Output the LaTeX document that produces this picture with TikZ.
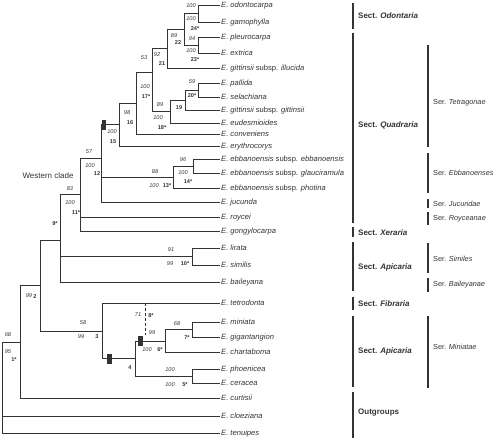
\documentclass[tikz,border=0pt]{standalone}
\usepackage{fontspec}
\setmainfont{Liberation Sans}
\usepackage{xcolor}
\definecolor{ink}{gray}{0.2}

\begin{document}
\begin{tikzpicture}[x=1pt,y=-1pt,
    branch/.style={draw=ink, line width=0.9pt},
    taxon/.style={anchor=west, inner sep=1.5pt, text=ink, text height=5.4pt, text depth=0pt,
        font=\fontsize{7.6}{9}\selectfont\itshape},
    supp/.style={inner sep=0pt, text=ink, font=\fontsize{5.6}{6}\selectfont\itshape},
    num/.style={inner sep=0pt, text=ink, font=\fontsize{5.6}{6}\selectfont\bfseries},
    synap/.style={fill=ink, inner sep=0pt, minimum width=4.5pt, minimum height=10pt},
    sectbar/.style={draw=ink, line width=2pt},
    serbar/.style={draw=ink, line width=1.6pt},
    sect/.style={anchor=west, inner sep=0pt, text=ink, font=\fontsize{8}{9}\selectfont\bfseries},
    ser/.style={anchor=west, inner sep=0pt, text=ink, font=\fontsize{7.3}{9}\selectfont}]
\useasboundingbox (0,0) rectangle (500,439);

% Taxa (tips of the tree)
\node[taxon] (odo) at (219.5,5) {E. odontocarpa};
\node[taxon] (gam) at (219.5,22) {E. gamophylla};
\node[taxon] (ple) at (219.5,37) {E. pleurocarpa};
\node[taxon] (ext) at (219.5,53) {E. extrica};
\node[taxon] (ill) at (219.5,68) {E. gittinsii \upshape subsp. \itshape illucida};
\node[taxon] (pal) at (219.5,83) {E. pallida};
\node[taxon] (sel) at (219.5,97) {E. selachiana};
\node[taxon] (git) at (219.5,110) {E. gittinsii \upshape subsp. \itshape gittinsii};
\node[taxon] (eud) at (219.5,123) {E. eudesmioides};
\node[taxon] (con) at (219.5,134) {E. conveniens};
\node[taxon] (ery) at (219.5,146) {E. erythrocorys};
\node[taxon] (ebb) at (219.5,159) {E. ebbanoensis \upshape subsp. \itshape ebbanoensis};
\node[taxon] (gla) at (219.5,173) {E. ebbanoensis \upshape subsp. \itshape glauciramula};
\node[taxon] (pho) at (219.5,188) {E. ebbanoensis \upshape subsp. \itshape photina};
\node[taxon] (juc) at (219.5,202) {E. jucunda};
\node[taxon] (roy) at (219.5,217) {E. roycei};
\node[taxon] (gon) at (219.5,231) {E. gongylocarpa};
\node[taxon] (lir) at (219.5,248) {E. lirata};
\node[taxon] (sim) at (219.5,265) {E. similis};
\node[taxon] (bai) at (219.5,282) {E. baileyana};
\node[taxon] (tet) at (219.5,303) {E. tetrodonta};
\node[taxon] (min) at (219.5,322) {E. miniata};
\node[taxon] (gig) at (219.5,337) {E. gigantangion};
\node[taxon] (cha) at (219.5,352) {E. chartaboma};
\node[taxon] (phe) at (219.5,369) {E. phoenicea};
\node[taxon] (cer) at (219.5,383) {E. ceracea};
\node[taxon] (cur) at (219.5,398) {E. curtisii};
\node[taxon] (clo) at (219.5,416) {E. cloeziana};
\node[taxon] (ten) at (219.5,433) {E. tenuipes};

% Internal nodes
\coordinate (n24) at (198,13.5);
\coordinate (n23) at (198,45);
\coordinate (n22) at (184,29.2);
\coordinate (n21) at (167,48.6);
\coordinate (n20) at (198,90);
\coordinate (n19) at (185,100);
\coordinate (n18) at (170,111.5);
\coordinate (n17) at (152,72);
\coordinate (n16) at (136,103);
\coordinate (n15) at (119,124.5);
\coordinate (n14) at (193,166);
\coordinate (n13) at (173,177);
\coordinate (n12) at (101,158);
\coordinate (n11) at (80,194.5);
\coordinate (n10) at (192,256.5);
\coordinate (n9) at (60,240);
\coordinate (n7) at (192,329.5);
\coordinate (n6) at (165,341);
\coordinate (n5) at (192,376);
\coordinate (n4) at (135,358.5);
\coordinate (n3) at (102,331);
\coordinate (n2) at (40,285.5);
\coordinate (n1) at (20,342);
\coordinate (n0) at (2,387);

% Draw the branches
\draw[branch] (n24) |- (odo.west) (n24) |- (gam.west);
\draw[branch] (n23) |- (ple.west) (n23) |- (ext.west);
\draw[branch] (n22) |- (n24) (n22) |- (n23);
\draw[branch] (n21) |- (n22) (n21) |- (ill.west);
\draw[branch] (n20) |- (pal.west) (n20) |- (sel.west);
\draw[branch] (n19) |- (n20) (n19) |- (git.west);
\draw[branch] (n18) |- (n19) (n18) |- (eud.west);
\draw[branch] (n17) |- (n21) (n17) |- (n18);
\draw[branch] (n16) |- (n17) (n16) |- (con.west);
\draw[branch] (n15) |- (n16) (n15) |- (ery.west);
\draw[branch] (n14) |- (ebb.west) (n14) |- (gla.west);
\draw[branch] (n13) |- (n14) (n13) |- (pho.west);
\draw[branch] (n12) |- (n15) (n12) |- (n13) (n12) |- (juc.west);
\draw[branch] (n11) |- (n12) (n11) |- (roy.west) (n11) |- (gon.west);
\draw[branch] (n10) |- (lir.west) (n10) |- (sim.west);
\draw[branch] (n9) |- (n11) (n9) |- (n10) (n9) |- (bai.west);
\draw[branch] (n7) |- (min.west) (n7) |- (gig.west);
\draw[branch] (n6) |- (n7) (n6) |- (cha.west);
\draw[branch] (n5) |- (phe.west) (n5) |- (cer.west);
\draw[branch] (n4) |- (n6) (n4) |- (n5);
\draw[branch] (n3) |- (tet.west) (n3) |- (n4);
\draw[branch] (n2) |- (n9) (n2) |- (n3);
\draw[branch] (n1) |- (n2) (n1) |- (cur.west);
\draw[branch] (n0) |- (n1) (n0) |- (clo.west) (n0) |- (ten.west);

% Alternative grouping of node 8 (dashed)
\coordinate (n8) at (145,303);
\coordinate (n8end) at (145,335);
\draw[branch, dash pattern=on 3pt off 2pt] (n8) -- (n8end);

% Black bars on branches
\node[synap] (bar15) at (103.8,124.5) {};
\node[synap] (bar4) at (109.5,358.5) {};
\node[synap] (bar6) at (140.5,341) {};

% Support values and node numbers
\node[supp] (s24a) at (191,6) {100};
\node[supp] (s24b) at (191,19) {100};
\node[num] (k24) at (195,29) {24*};
\node[supp] (s23a) at (192,39) {94};
\node[supp] (s23b) at (191,51) {100};
\node[num] (k23) at (195,60) {23*};
\node[supp] (s22a) at (174,36) {89};
\node[num] (k22) at (178,43) {22};
\node[supp] (s21a) at (157,55) {92};
\node[num] (k21) at (162,64) {21};
\node[supp] (s20a) at (192,82) {59};
\node[num] (k20) at (192,96) {20*};
\node[num] (k19) at (179,108) {19};
\node[supp] (s18a) at (160,105) {89};
\node[supp] (s18b) at (158,118) {100};
\node[num] (k18) at (162,128) {18*};
\node[supp] (s17a) at (144,58) {53};
\node[supp] (s17b) at (145,87) {100};
\node[num] (k17) at (146,97) {17*};
\node[supp] (s16a) at (127,113) {98};
\node[num] (k16) at (130,123) {16};
\node[supp] (s15a) at (112,132) {100};
\node[num] (k15) at (113,142) {15};
\node[supp] (s14a) at (183,160) {96};
\node[supp] (s14b) at (183,173) {100};
\node[num] (k14) at (188,182) {14*};
\node[supp] (s13a) at (155,172) {88};
\node[supp] (s13b) at (154,186) {100};
\node[num] (k13) at (167,186) {13*};
\node[supp] (s12a) at (89,152) {57};
\node[supp] (s12b) at (90,166) {100};
\node[num] (k12) at (97,174) {12};
\node[supp] (s11a) at (70,189) {83};
\node[supp] (s11b) at (70,203) {100};
\node[num] (k11) at (76,213) {11*};
\node[supp] (s10a) at (171,250) {91};
\node[supp] (s10b) at (170,264) {99};
\node[num] (k10) at (185,264) {10*};
\node[num] (k9) at (55,224) {9*};
\node[supp] (s8a) at (138,315) {71};
\node[num] (k8) at (151,316) {8*};
\node[supp] (s7a) at (177,324) {68};
\node[num] (k7) at (187,338) {7*};
\node[supp] (s6a) at (152,333) {99};
\node[supp] (s6b) at (147,350) {100};
\node[num] (k6) at (160,350) {6*};
\node[supp] (s5a) at (170,370) {100};
\node[supp] (s5b) at (170,385) {100};
\node[num] (k5) at (185,385) {5*};
\node[num] (k4) at (130,368) {4};
\node[supp] (s3a) at (83,323) {58};
\node[supp] (s3b) at (81,337) {99};
\node[num] (k3) at (97,337) {3};
\node[supp] (s2a) at (29,296) {99};
\node[num] (k2) at (35,297) {2};
\node[supp] (s1a) at (8,335) {68};
\node[supp] (s1b) at (8,352) {95};
\node[num] (k1) at (14,360) {1*};

\node[inner sep=0pt, text=ink, font=\fontsize{8}{9}\selectfont] (west) at (48,176) {Western clade};

% Sections
\draw[sectbar] (353,3) -- (353,29);
\node[sect] (odon) at (358,16) {Sect. \textit{Odontaria}};
\draw[sectbar] (353,33) -- (353,223);
\node[sect] (quad) at (358,125) {Sect. \textit{Quadraria}};
\draw[sectbar] (353,227) -- (353,237);
\node[sect] (xera) at (358,233) {Sect. \textit{Xeraria}};
\draw[sectbar] (353,242) -- (353,291);
\node[sect] (apic) at (358,267) {Sect. \textit{Apicaria}};
\draw[sectbar] (353,297) -- (353,310);
\node[sect] (fibr) at (358,304) {Sect. \textit{Fibraria}};
\draw[sectbar] (353,316) -- (353,387);
\node[sect] (apicb) at (358,351) {Sect. \textit{Apicaria}};
\draw[sectbar] (353,392) -- (353,438);
\node[sect] (outg) at (358,413) {Outgroups};

% Series
\draw[serbar] (428,45) -- (428,147);
\node[ser] (tetr) at (433,103) {Ser. \textit{Tetragonae}};
\draw[serbar] (428,153) -- (428,193);
\node[ser] (ebba) at (433,173) {Ser. \textit{Ebbanoenses}};
\draw[serbar] (428,199) -- (428,208);
\node[ser] (jucu) at (433,204) {Ser. \textit{Jucundae}};
\draw[serbar] (428,212) -- (428,225);
\node[ser] (royc) at (433,219) {Ser. \textit{Royceanae}};
\draw[serbar] (428,243) -- (428,273);
\node[ser] (simi) at (433,259) {Ser. \textit{Similes}};
\draw[serbar] (428,278) -- (428,292);
\node[ser] (bail) at (433,285) {Ser. \textit{Baileyanae}};
\draw[serbar] (428,316) -- (428,388);
\node[ser] (mini) at (433,347) {Ser. \textit{Miniatae}};
\end{tikzpicture}
\end{document}
